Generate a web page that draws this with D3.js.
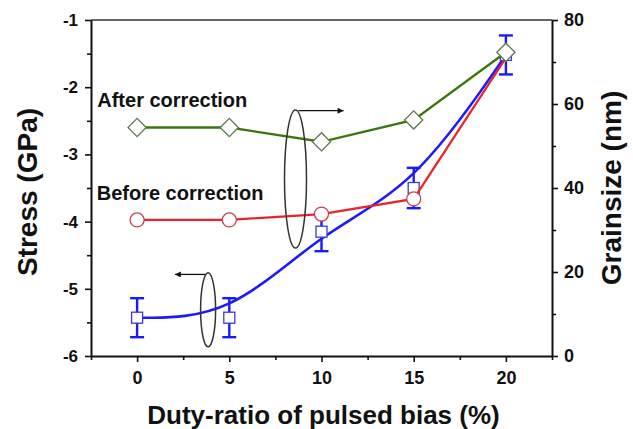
<!DOCTYPE html>
<html>
<head>
<meta charset="utf-8">
<script src="https://cdn.jsdelivr.net/npm/d3@7/dist/d3.min.js"></script>
<style>
  html, body { margin: 0; padding: 0; background: #fff; }
  svg { display: block; font-family: "Liberation Sans", Arial, sans-serif; font-weight: bold; }
</style>
</head>
<body>
<svg id="chart" width="633" height="429"></svg>
<script>
// Duty ratio of the pulsed bias (%)
const duty = [0, 5, 10, 15, 20];
// Residual stress (GPa), left axis, with error bars
const stress = [-5.43, -5.43, -4.15, -3.50, -1.52];
const stressErr = [0.29, 0.29, 0.29, 0.30, 0.29];
// Grain size (nm), right axis
const grainAfter = [54.4, 54.4, 51.0, 56.2, 72.3];
const grainBefore = [32.4, 32.4, 33.8, 37.4, 71.0];

const leftTicks = [-6, -5, -4, -3, -2, -1];
const rightTicks = [0, 20, 40, 60, 80];
const xTicks = [0, 5, 10, 15, 20];

const svg = d3.select("#chart");
const M = { left: 91, right: 552, top: 20, bottom: 356 };

const x = d3.scaleLinear().domain([-2.5, 22.5]).range([M.left, M.right]);
const yL = d3.scaleLinear().domain([-6, -1]).range([M.bottom, M.top]);
const yR = d3.scaleLinear().domain([0, 80]).range([M.bottom, M.top]);

// ---- axes ----
function styleAxis(g, size) {
  g.selectAll(".domain").attr("stroke", "#111").attr("stroke-width", 2);
  g.selectAll(".tick line").attr("stroke", "#111").attr("stroke-width", 1.6);
  g.selectAll(".tick text").attr("fill", "#111").style("font-size", size + "px")
    .style("font-weight", "bold").style("font-family", '"Liberation Sans", Arial, sans-serif');
}
function minor(g) {
  g.select(".domain").remove();
  g.selectAll("line").attr("stroke", "#111").attr("stroke-width", 1.6);
}

// minor ticks
svg.append("g").attr("transform", `translate(0,${M.bottom})`)
  .call(d3.axisBottom(x).tickValues(d3.range(-2.5, 23, 5)).tickSize(4).tickFormat("")).call(minor);
svg.append("g").attr("transform", `translate(${M.left},0)`)
  .call(d3.axisLeft(yL).tickValues(d3.range(-5.5, -1, 1)).tickSize(4).tickFormat("")).call(minor);
svg.append("g").attr("transform", `translate(${M.right},0)`)
  .call(d3.axisRight(yR).tickValues(d3.range(10, 80, 20)).tickSize(4).tickFormat("")).call(minor);

// top frame
svg.append("line").attr("x1", M.left).attr("x2", M.right).attr("y1", M.top).attr("y2", M.top)
  .attr("stroke", "#666").attr("stroke-width", 2);

svg.append("g").attr("transform", `translate(0,${M.bottom})`)
  .call(d3.axisBottom(x).tickValues(xTicks).tickSize(6).tickSizeOuter(0).tickPadding(9))
  .call(g => styleAxis(g, 18));
svg.append("g").attr("transform", `translate(${M.left},0)`)
  .call(d3.axisLeft(yL).tickValues(leftTicks).tickSize(6).tickSizeOuter(0).tickPadding(7).tickFormat(d => String(d)))
  .call(g => styleAxis(g, 17));
svg.append("g").attr("transform", `translate(${M.right},0)`)
  .call(d3.axisRight(yR).tickValues(rightTicks).tickSize(6).tickSizeOuter(0).tickPadding(6))
  .call(g => styleAxis(g, 18));

// axis titles
svg.append("text").attr("x", (M.left + M.right) / 2 + 2).attr("y", 424)
  .attr("text-anchor", "middle").style("font-size", "26px").attr("fill", "#111")
  .text("Duty-ratio of pulsed bias (%)");
svg.append("text").attr("transform", `translate(37,${(M.top + M.bottom) / 2 + 4}) rotate(-90)`)
  .attr("text-anchor", "middle").style("font-size", "28px").attr("fill", "#111")
  .text("Stress (GPa)");
svg.append("text").attr("transform", `translate(621,${(M.top + M.bottom) / 2}) rotate(-90)`)
  .attr("text-anchor", "middle").style("font-size", "28px").attr("fill", "#111")
  .text("Grainsize (nm)");

// ---- data ----
const stressPts = duty.map((d, i) => ({ d, v: stress[i], e: stressErr[i] }));
const afterPts = duty.map((d, i) => ({ d, v: grainAfter[i] }));
const beforePts = duty.map((d, i) => ({ d, v: grainBefore[i] }));

// stress: smoothed curve, error bars, squares
svg.append("path").datum(stressPts)
  .attr("d", d3.line().x(p => x(p.d)).y(p => yL(p.v)).curve(d3.curveBasis))
  .attr("fill", "none").attr("stroke", "#1a1aff").attr("stroke-width", 2.6);

const eb = svg.append("g").attr("stroke", "#1a1aff").attr("stroke-width", 2.4);
stressPts.forEach(p => {
  eb.append("line").attr("x1", x(p.d)).attr("x2", x(p.d)).attr("y1", yL(p.v - p.e)).attr("y2", yL(p.v + p.e));
  [p.v - p.e, p.v + p.e].forEach(v =>
    eb.append("line").attr("x1", x(p.d) - 7).attr("x2", x(p.d) + 7).attr("y1", yL(v)).attr("y2", yL(v)));
});
svg.append("g").selectAll("rect").data(stressPts).join("rect")
  .attr("x", p => x(p.d) - 5.5).attr("y", p => yL(p.v) - 5.5).attr("width", 11).attr("height", 11)
  .attr("fill", "#fff").attr("stroke", "#3a3ad8").attr("stroke-width", 1.3);

// grain size before correction
svg.append("path").datum(beforePts)
  .attr("d", d3.line().x(p => x(p.d)).y(p => yR(p.v)))
  .attr("fill", "none").attr("stroke", "#e8232b").attr("stroke-width", 2.2);
svg.append("g").selectAll("circle").data(beforePts.slice(0, 4)).join("circle")
  .attr("cx", p => x(p.d)).attr("cy", p => yR(p.v)).attr("r", 7)
  .attr("fill", "#fff").attr("stroke", "#c8404a").attr("stroke-width", 1.3);

// grain size after correction
svg.append("path").datum(afterPts)
  .attr("d", d3.line().x(p => x(p.d)).y(p => yR(p.v)))
  .attr("fill", "none").attr("stroke", "#3b770c").attr("stroke-width", 2.4);
svg.append("g").selectAll("path").data(afterPts).join("path")
  .attr("d", d3.symbol(d3.symbolSquare, 165))
  .attr("transform", p => `translate(${x(p.d)},${yR(p.v)}) rotate(45)`)
  .attr("fill", "#fff").attr("stroke", "#5f7650").attr("stroke-width", 1.3);

// ---- annotations ----
svg.append("text").attr("x", x(-2.16)).attr("y", yL(-2.29))
  .style("font-size", "20px").attr("fill", "#111").text("After correction");
svg.append("text").attr("x", x(-2.19)).attr("y", yL(-3.68))
  .style("font-size", "20px").attr("fill", "#111").text("Before correction");

const defs = svg.append("defs");
defs.append("marker").attr("id", "arrow").attr("viewBox", "0 0 10 10")
  .attr("refX", 10).attr("refY", 5).attr("markerWidth", 9).attr("markerHeight", 6)
  .attr("markerUnits", "userSpaceOnUse").attr("orient", "auto")
  .append("path").attr("d", "M0,0L10,5L0,10Z").attr("fill", "#111");

// group marker for the grain size curves -> right axis
svg.append("ellipse").attr("cx", x(8.59)).attr("cy", yL(-3.366)).attr("rx", 11).attr("ry", 69)
  .attr("fill", "none").attr("stroke", "#333").attr("stroke-width", 1.5);
svg.append("line").attr("x1", x(8.75)).attr("x2", x(11.2)).attr("y1", yL(-2.35)).attr("y2", yL(-2.35))
  .attr("stroke", "#111").attr("stroke-width", 1.3).attr("marker-end", "url(#arrow)");

// group marker for the stress curve -> left axis
svg.append("ellipse").attr("cx", x(3.85)).attr("cy", yL(-5.313)).attr("rx", 7.5).attr("ry", 37)
  .attr("fill", "none").attr("stroke", "#333").attr("stroke-width", 1.5);
svg.append("line").attr("x1", x(3.7)).attr("x2", x(2.05)).attr("y1", yL(-4.786)).attr("y2", yL(-4.786))
  .attr("stroke", "#111").attr("stroke-width", 1.3).attr("marker-end", "url(#arrow)");
</script>
</body>
</html>
